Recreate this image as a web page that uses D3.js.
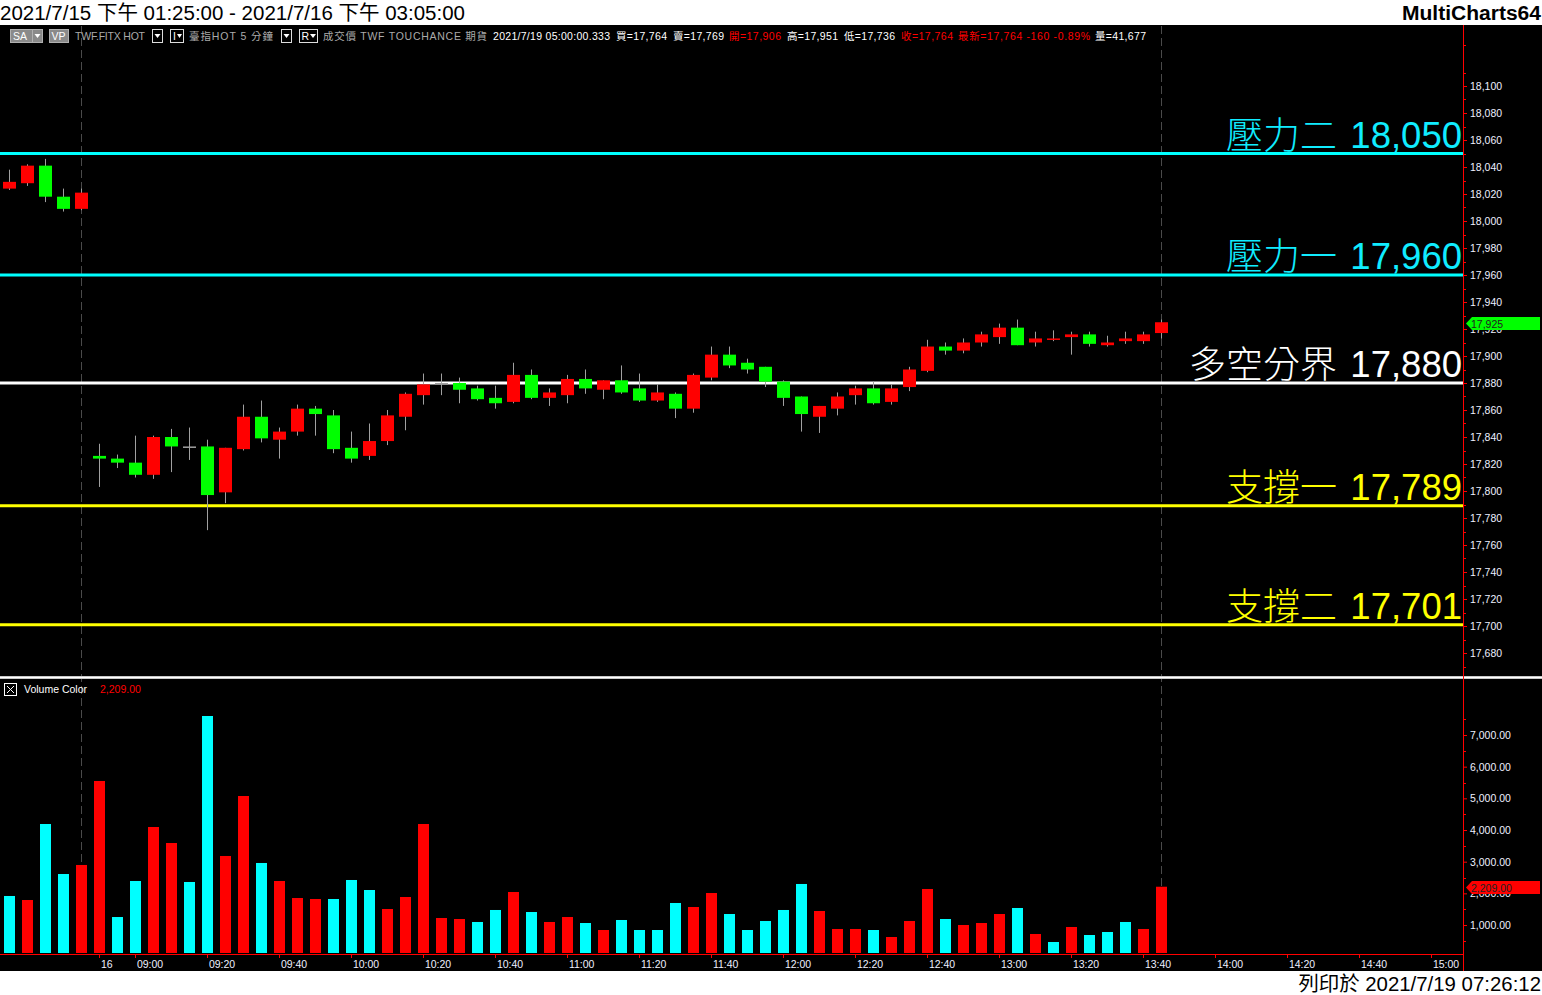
<!DOCTYPE html>
<html><head><meta charset="utf-8">
<script src="https://cdn.jsdelivr.net/npm/d3@7/dist/d3.min.js"></script>
<style>
html,body{margin:0;padding:0;background:#fff;overflow:hidden;}
text{font-family:"Liberation Sans","Noto Sans CJK TC",sans-serif;}
</style></head>
<body>
<svg id="c" width="1542" height="995"></svg>
<script>
// ---------- DATA ----------
const opens  = [18024,18028,18041,18018,18009,17826,17824,17821,17812,17840,17833,17833,17799,17831,17855,17838,17844,17861,17856,17832,17826,17837,17855,17871,17880,17880,17876,17869,17866,17886,17869,17871,17883,17875,17882,17876,17867,17872,17861,17884,17901,17895,17892,17881,17870,17855,17861,17871,17876,17866,17877,17889,17907,17904,17910,17914,17921,17910,17912,17914,17916,17908,17911,17911,17917];
const highs  = [18038,18042,18046,18024,18024,17835,17827,17841,17841,17846,17847,17838,17832,17864,17867,17847,17864,17863,17860,17844,17850,17860,17873,17887,17887,17884,17878,17878,17895,17890,17876,17886,17890,17882,17893,17887,17879,17873,17887,17907,17907,17898,17892,17882,17870,17863,17873,17878,17881,17879,17892,17912,17910,17913,17918,17924,17927,17918,17919,17918,17918,17915,17918,17918,17927];
const lows   = [18023,18026,18014,18007,18008,17803,17817,17810,17809,17814,17823,17771,17791,17830,17836,17824,17841,17841,17828,17821,17823,17834,17845,17864,17871,17865,17867,17861,17865,17868,17863,17865,17872,17868,17872,17866,17866,17854,17858,17882,17891,17887,17877,17863,17844,17843,17856,17864,17864,17864,17874,17888,17901,17902,17907,17909,17908,17907,17911,17901,17907,17907,17909,17909,17913];
const closes = [18029,18041,18018,18009,18021,17824,17821,17812,17840,17833,17833,17797,17832,17855,17839,17844,17861,17857,17831,17824,17837,17856,17872,17879,17880,17875,17868,17865,17886,17869,17873,17883,17876,17882,17873,17867,17873,17861,17886,17901,17893,17890,17881,17869,17857,17863,17870,17876,17865,17876,17890,17907,17904,17910,17916,17921,17908,17913,17913,17916,17909,17910,17913,17916,17925];
const volumes = [1917,1790,4190,2611,2896,5548,1253,2390,4095,3590,2359,7600,3180,5074,2959,2390,1853,1822,1822,2422,2106,1506,1885,4190,1222,1190,1096,1475,2043,1411,1096,1253,1064,843,1159,843,843,1696,1569,2011,1348,843,1127,1475,2296,1443,875,875,843,622,1127,2138,1190,1001,1064,1348,1538,717,464,938,685,780,1096,875,2209];
const volColors = "crccrrccrrccrrcrrrcccrrrrrccrcrrcrccccrrcccccrrrcrrrcrrrcrcrcccrr";
const levelNames  = ["壓力二","壓力一","多空分界","支撐一","支撐二"];
const levelValues = [18050,17960,17880,17789,17701];
const levelColors = ["cyan","cyan","white","yellow","yellow"];
const priceTicks = [17680,17700,17720,17740,17760,17780,17800,17820,17840,17860,17880,17900,17920,17940,17960,17980,18000,18020,18040,18060,18080,18100];
const volTicks = [0,1000,2000,3000,4000,5000,6000,7000];
const timeTickIdx = [5,7,11,15,19,23,27,31,35,39,43,47,51,55,59,63,67,71,75,79];
const timeTickLabels = ["16","09:00","09:20","09:40","10:00","10:20","10:40","11:00","11:20","11:40","12:00","12:20","12:40","13:00","13:20","13:40","14:00","14:20","14:40","15:00"];
const sessionMarks = [4,64];

// ---------- SETUP ----------
const svg = d3.select("#c");
const W = 1542, H = 995, AX = 1463;
const x  = d3.scaleLinear().domain([0,79]).range([9.4, 9.4+18*79]);
const yP = d3.scaleLinear().domain([17880,18100]).range([383,86]);
const yV = d3.scaleLinear().domain([0,7000]).range([956.7,735]);
const colMap = {cyan:"#00FFFF", white:"#FFFFFF", yellow:"#FFFF00"};
const textColMap = {cyan:"#10ECFF", white:"#FFFFFF", yellow:"#FFFF00"};

svg.append("rect").attr("x",0).attr("y",0).attr("width",W).attr("height",H).attr("fill","#fff");
svg.append("rect").attr("x",0).attr("y",25).attr("width",W).attr("height",946).attr("fill","#000");

// title
svg.append("text").attr("x",0).attr("y",20).attr("font-size","20.5px").attr("fill","#000")
  .text("2021/7/15 下午 01:25:00 - 2021/7/16 下午 03:05:00");
svg.append("text").attr("x",1541).attr("y",20).attr("text-anchor","end").attr("font-size","20px")
  .attr("font-weight","bold").attr("fill","#000").attr("textLength",139).attr("lengthAdjust","spacingAndGlyphs").text("MultiCharts64");
svg.append("text").attr("x",1541).attr("y",991).attr("text-anchor","end").attr("font-size","20.4px")
  .attr("fill","#000").text("列印於 2021/7/19 07:26:12");

// session dashed lines
svg.append("g").selectAll("line").data(sessionMarks).join("line")
  .attr("x1",d=>Math.round(x(d))+0.5).attr("x2",d=>Math.round(x(d))+0.5)
  .attr("y1",26).attr("y2",953).attr("stroke","#4a4a4a").attr("stroke-width",1)
  .attr("stroke-dasharray","8,4");

// info bar
const info = svg.append("g").attr("font-size","10.5px");
function box(x0,w,fill,stroke){info.append("rect").attr("x",x0+0.5).attr("y",29.5).attr("width",w).attr("height",13).attr("fill",fill).attr("stroke",stroke);}
box(10,22,"#8a8a8a","#b0b0b0"); box(32,10,"#8a8a8a","#b0b0b0");
info.append("text").attr("x",13).attr("y",40).attr("fill","#fff").text("SA");
info.append("path").attr("d","M34.5,34 L40.5,34 L37.5,38 Z").attr("fill","#fff");
box(49,19,"#8a8a8a","#b0b0b0");
info.append("text").attr("x",51.5).attr("y",40).attr("fill","#fff").text("VP");
box(152,10,"#000","#ddd"); info.append("path").attr("d","M154.5,34 L160.5,34 L157.5,38 Z").attr("fill","#fff");
box(170,13,"#000","#ddd"); info.append("text").attr("x",173).attr("y",40).attr("fill","#fff").text("I");
info.append("path").attr("d","M177,34 L182,34 L179.5,38 Z").attr("fill","#fff");
box(281,10,"#000","#ddd"); info.append("path").attr("d","M283.5,34 L289.5,34 L286.5,38 Z").attr("fill","#fff");
box(299,18,"#000","#ddd"); info.append("text").attr("x",301.5).attr("y",40).attr("fill","#fff").text("R");
info.append("path").attr("d","M310,34 L316,34 L313,38 Z").attr("fill","#fff");
const infoItems = [
 [75,"#aaa","TWF.FITX HOT",70],[189,"#aaa","臺指HOT  5 分鐘",84],
 [323,"#aaa","成交價  TWF  TOUCHANCE  期貨",164],[493,"#fff","2021/7/19  05:00:00.333",117],
 [616,"#fff","買=17,764",51],[673,"#fff","賣=17,769",51],[729,"#ff0000","開=17,906",52],
 [787,"#fff","高=17,951",51],[844,"#fff","低=17,736",51],[901,"#ff0000","收=17,764",52],
 [958,"#ff0000","最新=17,764  -160  -0.89%",132],[1095,"#fff","量=41,677",51]];
info.selectAll("text.it").data(infoItems).join("text").attr("class","it")
  .attr("x",d=>d[0]).attr("y",40).attr("fill",d=>d[1])
  .attr("textLength",d=>d[3]).attr("lengthAdjust","spacing").text(d=>d[2]);

// level lines
const lv = svg.append("g");
lv.selectAll("line").data(levelValues).join("line")
  .attr("x1",0).attr("x2",AX).attr("y1",d=>yP(d)).attr("y2",d=>yP(d))
  .attr("stroke",(d,i)=>colMap[levelColors[i]]).attr("stroke-width",3);
lv.selectAll("text.num").data(levelValues).join("text").attr("class","num")
  .attr("x",AX-1).attr("y",d=>yP(d)-6).attr("text-anchor","end").attr("font-size","36.5px")
  .attr("fill",(d,i)=>textColMap[levelColors[i]])
  .text(d=>d3.format(",")(d));
lv.selectAll("text.nm").data(levelValues).join("text").attr("class","nm")
  .attr("x",1337).attr("y",d=>yP(d)-5).attr("text-anchor","end").attr("font-size","37px")
  .attr("font-weight","300").attr("font-family","'Noto Sans CJK TC',sans-serif")
  .attr("fill",(d,i)=>textColMap[levelColors[i]])
  .text((d,i)=>levelNames[i]);

// candles
const idx = d3.range(opens.length);
const cg = svg.append("g");
cg.selectAll("line.w").data(idx).join("line").attr("class","w")
  .attr("x1",i=>Math.round(x(i))+0.5).attr("x2",i=>Math.round(x(i))+0.5)
  .attr("y1",i=>yP(highs[i])).attr("y2",i=>yP(lows[i]))
  .attr("stroke","#a0a0a0").attr("stroke-width",1);
cg.selectAll("rect.b").data(idx).join("rect").attr("class","b")
  .attr("x",i=>Math.round(x(i))-6).attr("width",13)
  .attr("y",i=>yP(Math.max(opens[i],closes[i])))
  .attr("height",i=>Math.max(1.5,Math.abs(yP(opens[i])-yP(closes[i]))))
  .attr("fill",i=>closes[i]>opens[i]?"#FF0000":(closes[i]<opens[i]?"#00FF00":"#a0a0a0"));

// separator
svg.append("rect").attr("x",0).attr("y",676).attr("width",W).attr("height",3).attr("fill","#c8c8c8");
svg.append("rect").attr("x",0).attr("y",677).attr("width",W).attr("height",1).attr("fill","#fff");

// volume header
svg.append("rect").attr("x",4.5).attr("y",683.5).attr("width",12).attr("height",12).attr("fill","none").attr("stroke","#fff");
svg.append("path").attr("d","M7,686 L14,693 M14,686 L7,693").attr("stroke","#fff").attr("stroke-width",1);
svg.append("text").attr("x",24).attr("y",693).attr("font-size","10.5px").attr("fill","#fff").text("Volume Color");
svg.append("text").attr("x",100).attr("y",693).attr("font-size","10.5px").attr("fill","#ff0000").text(d3.format(",.2f")(volumes[volumes.length-1]));

// volume bars
svg.append("g").selectAll("rect").data(idx).join("rect")
  .attr("x",i=>Math.round(x(i))-5).attr("width",11)
  .attr("y",i=>yV(volumes[i])).attr("height",i=>953-yV(volumes[i]))
  .attr("fill",i=>volColors[i]==="c"?"#00FFFF":"#FF0000");

// axes lines
svg.append("line").attr("x1",AX+0.5).attr("x2",AX+0.5).attr("y1",25).attr("y2",971).attr("stroke","#ff0000");
svg.append("line").attr("x1",0).attr("x2",AX).attr("y1",954.5).attr("y2",954.5).attr("stroke","#ff0000");

// price axis
const pa = svg.append("g").attr("transform",`translate(${AX},0)`)
  .call(d3.axisRight(yP).tickValues(priceTicks).tickFormat(d3.format(",")).tickSize(4).tickPadding(3));
pa.select(".domain").remove();
pa.selectAll("line").attr("stroke","#ff0000");
pa.selectAll("text").attr("fill","#eef0ff").attr("font-size","10.5px").attr("font-family",null);
const minorP = d3.range(17670,18150,20);
svg.append("g").selectAll("line").data(minorP).join("line")
  .attr("x1",AX).attr("x2",AX+3).attr("y1",d=>Math.round(yP(d))+0.5).attr("y2",d=>Math.round(yP(d))+0.5).attr("stroke","#ff0000");

// volume axis
svg.append("clipPath").attr("id","vc").append("rect").attr("x",AX).attr("y",680).attr("width",80).attr("height",273);
const va = svg.append("g").attr("clip-path","url(#vc)").append("g").attr("transform",`translate(${AX},0)`)
  .call(d3.axisRight(yV).tickValues(volTicks).tickFormat(d3.format(",.2f")).tickSize(4).tickPadding(3));
va.select(".domain").remove();
va.selectAll("line").attr("stroke","#ff0000");
va.selectAll("text").attr("fill","#eef0ff").attr("font-size","10.5px").attr("font-family",null);
svg.append("g").selectAll("line").data(d3.range(500,8500,1000)).join("line")
  .attr("x1",AX).attr("x2",AX+3).attr("y1",d=>Math.round(yV(d))+0.5).attr("y2",d=>Math.round(yV(d))+0.5).attr("stroke","#ff0000");

// markers
function marker(yc, fill, txt){
  const g = svg.append("g");
  g.append("path").attr("d",`M1466,${yc} L1472,${yc-6.5} L1540,${yc-6.5} L1540,${yc+6.5} L1472,${yc+6.5} Z`).attr("fill",fill);
  g.append("text").attr("x",1471).attr("y",yc+4).attr("font-size","10.5px").attr("fill","#222").text(txt);
}
marker(Math.round(yP(closes[closes.length-1]))+1.5, "#00FF00", d3.format(",")(closes[closes.length-1]));
marker(Math.round(yV(volumes[volumes.length-1]))+0.5, "#FF0000", d3.format(",.2f")(volumes[volumes.length-1]));

// time axis
const tg = svg.append("g");
tg.selectAll("line").data(timeTickIdx).join("line")
  .attr("x1",i=>Math.round(x(i))+0.5).attr("x2",i=>Math.round(x(i))+0.5)
  .attr("y1",955).attr("y2",958).attr("stroke","#ff0000");
tg.selectAll("text").data(timeTickIdx).join("text")
  .attr("x",i=>x(i)+1.5).attr("y",968).attr("font-size","10.5px").attr("fill","#eef0ff")
  .text((d,i)=>timeTickLabels[i]);
</script>
</body></html>
